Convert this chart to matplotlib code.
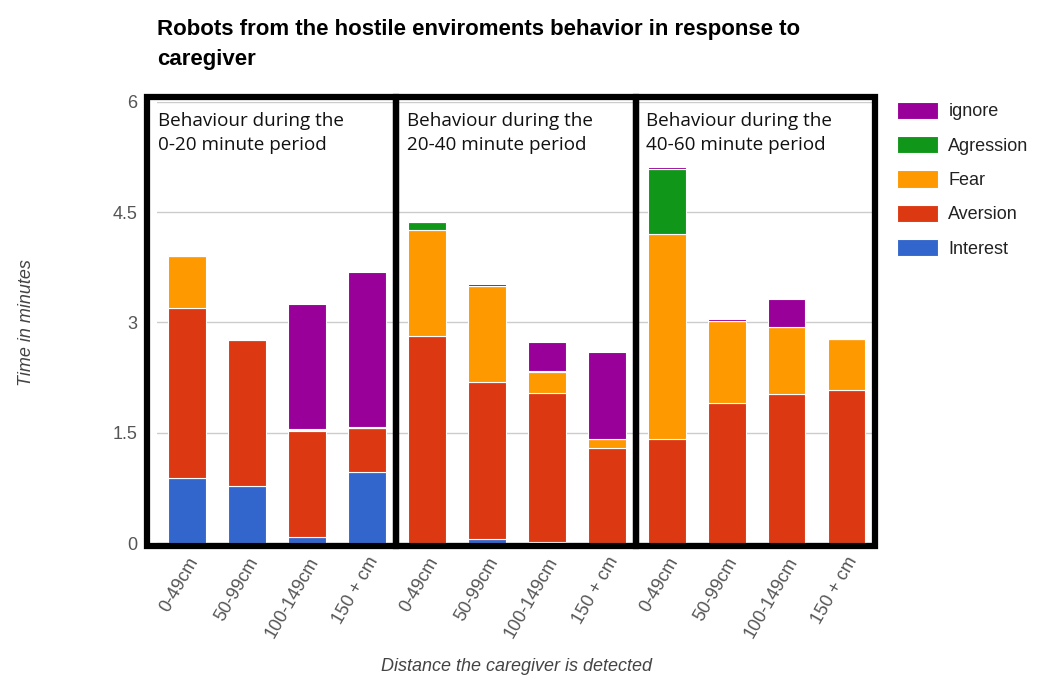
import matplotlib.pyplot as plt
from matplotlib.patches import Rectangle
import numpy as np

plt.rcParams['font.family'] = ['Liberation Sans', 'DejaVu Sans']

# distances repeated for the three time periods
distancias = ["0-49cm", "50-99cm", "100-149cm", "150 + cm"] * 3
periodos = ["Behaviour during the\n0-20 minute period",
            "Behaviour during the\n20-40 minute period",
            "Behaviour during the\n40-60 minute period"]

# minutes spent in each behaviour (stacked bottom to top)
interest = [0.88, 0.78, 0.08, 0.97, 0.00, 0.05, 0.02, 0.00, 0.00, 0.00, 0.00, 0.00]
aversion = [2.31, 1.98, 1.44, 0.60, 2.82, 2.14, 2.02, 1.29, 1.41, 1.90, 2.02, 2.08]
fear = [0.71, 0.01, 0.02, 0.00, 1.44, 1.31, 0.29, 0.12, 2.79, 1.12, 0.92, 0.69]
agression = [0.00, 0.00, 0.01, 0.01, 0.11, 0.00, 0.01, 0.01, 0.89, 0.00, 0.00, 0.00]
ignore = [0.02, 0.02, 1.70, 2.10, 0.01, 0.02, 0.40, 1.18, 0.02, 0.02, 0.38, 0.02]

series = [("Interest", interest, "#3366CC"),
          ("Aversion", aversion, "#DC3912"),
          ("Fear", fear, "#FF9900"),
          ("Agression", agression, "#109618"),
          ("ignore", ignore, "#990099")]

fig = plt.figure(figsize=(10.41, 6.78), dpi=100)
ax = fig.add_axes([0.151, 0.199, 0.691, 0.651])

x = np.arange(len(distancias))
base = np.zeros(len(distancias))
barras = []
for nombre, valores, color in series:
    b = ax.bar(x, valores, width=0.63, bottom=base, color=color,
               edgecolor="white", linewidth=0.8, label=nombre, zorder=2)
    barras.append(b)
    base = base + np.array(valores)

ax.set_xlim(-0.5, 11.5)
ax.set_ylim(0, 6)
ax.set_yticks([0, 1.5, 3, 4.5, 6])
ax.set_yticklabels(["0", "1.5", "3", "4.5", "6"])
ax.yaxis.grid(True, color="#cccccc", linewidth=1, zorder=0)
ax.set_axisbelow(True)
for s in ax.spines.values():
    s.set_visible(False)
ax.tick_params(axis="both", length=0, colors="#555555", labelsize=13)
ax.tick_params(axis="y", pad=14)
ax.tick_params(axis="x", pad=8)
ax.set_xticks(x)
ax.set_xticklabels(distancias, rotation=60, ha="right", rotation_mode="anchor")

ax.set_xlabel("Distance the caregiver is detected", fontsize=13,
              style="italic", color="#444444", labelpad=12.5)
ax.set_ylabel("Time in minutes", fontsize=13, style="italic",
              color="#444444", labelpad=56)

# black boxes around each time period
cajas = [(-0.67, 3.48), (3.48, 7.48), (7.48, 11.48)]
for (x0, x1), texto in zip(cajas, periodos):
    ax.add_patch(Rectangle((x0, -0.04), x1 - x0, 6.1, fill=False,
                           edgecolor="black", linewidth=4.5, clip_on=False, zorder=5))
    ax.text(x0 + 0.18, 5.86, texto, fontsize=13.6, va="top", ha="left",
            family=["Open Sans", "DejaVu Sans"], color="#111111",
            linespacing=1.45, zorder=6)

handles = barras[::-1]
etiquetas = [h.get_label() for h in handles]
fig.legend(handles, etiquetas, loc="upper left", bbox_to_anchor=(0.846, 0.874),
           frameon=False, fontsize=13, handlelength=2.3, handleheight=1.1,
           labelspacing=0.86, handletextpad=0.55, labelcolor="#222222")

fig.text(0.151, 0.972, "Robots from the hostile enviroments behavior in response to\ncaregiver",
         fontsize=16, fontweight="bold", va="top", ha="left", linespacing=1.55)

fig.savefig("out.png", dpi=100)
